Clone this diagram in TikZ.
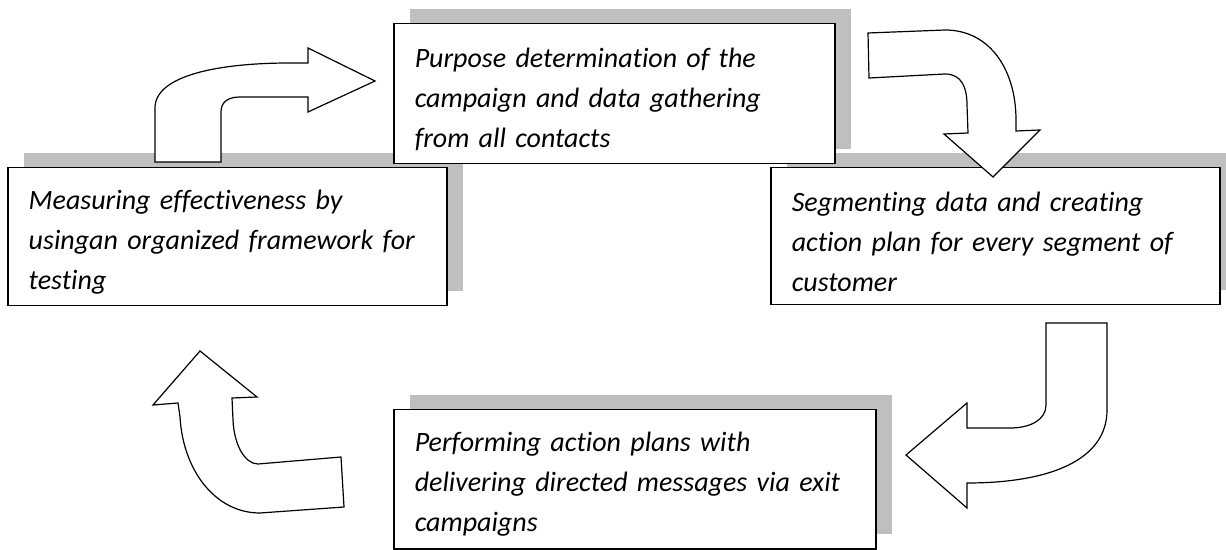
\documentclass[tikz,border=0pt]{standalone}
\usepackage{fontspec}
\setmainfont{Carlito}[Ligatures=NoCommon]
\usepackage{xcolor}
\usepackage{tikz}
\usetikzlibrary{shadows}
\definecolor{shade}{RGB}{191,191,191}

\begin{document}
\begin{tikzpicture}[x=0.5pt, y=-0.5pt,
      box/.style={draw, line width=0.75pt, fill=white, anchor=north west,
         inner xsep=10.5pt, inner ysep=0pt, align=left,
         font=\itshape\fontsize{14}{20}\selectfont,
         execute at begin node={\rule{0pt}{15pt}},
         drop shadow={shadow xshift=8pt, shadow yshift=7.5pt, fill=shade, opacity=1}},
      bent/.style={draw, line width=0.6pt, fill=white, line join=miter}]
         \useasboundingbox (0, 0) rectangle (1226, 550);
         \node[box][text width=198.5pt, minimum height=69pt] (M) at (7, 167) {Measuring effectiveness by\\usingan organized framework for\\testing};
         \node[box][text width=203.5pt, minimum height=68.5pt] (S) at (770, 167) {Segmenting data and creating\\action plan for every segment of\\customer};
         \node[box][text width=220pt, minimum height=69.5pt] (D) at (393, 409) {Performing action plans with\\delivering directed messages via exit\\campaigns};
         \node[box][text width=199.5pt, minimum height=70pt] (P) at (393, 23) {Purpose determination of the\\campaign and data gathering\\from all contacts};
         \draw[bent] (155, 162) -- (155, 108) .. controls (155, 75) and (220, 63) .. (290, 63) -- (308, 63) -- (308, 48) -- (375, 81) -- (308, 112) -- (308, 97) -- (240, 97) .. controls (228, 97) and (221, 102) .. (221, 112) -- (221, 162) -- cycle;
         \draw[bent] (868, 33) -- (945, 30) .. controls (990, 30) and (1016, 70) .. (1016, 120) -- (1016, 131) -- (1040, 130) -- (993, 177) -- (944, 134) -- (968, 133) -- (967, 105) .. controls (967, 88) and (962, 74) .. (945, 74) -- (869, 78) -- cycle;
         \draw[bent] (1046, 323) -- (1107, 323) -- (1107, 410) .. controls (1107, 460) and (1050, 483) .. (967, 483) -- (967, 508) -- (906, 455) -- (967, 403) -- (967, 428) -- (1010, 428) .. controls (1030, 428) and (1046, 420) .. (1046, 405) -- cycle;
         \draw[bent] (344, 507) -- (260, 513) .. controls (215, 513) and (183, 470) .. (180, 417) -- (178, 403) -- (153, 405) -- (200, 351) -- (257, 397) -- (232, 398) -- (233, 420) .. controls (234, 445) and (245, 464) .. (258, 464) -- (341, 457) -- cycle;
      \end{tikzpicture}
\end{document}
